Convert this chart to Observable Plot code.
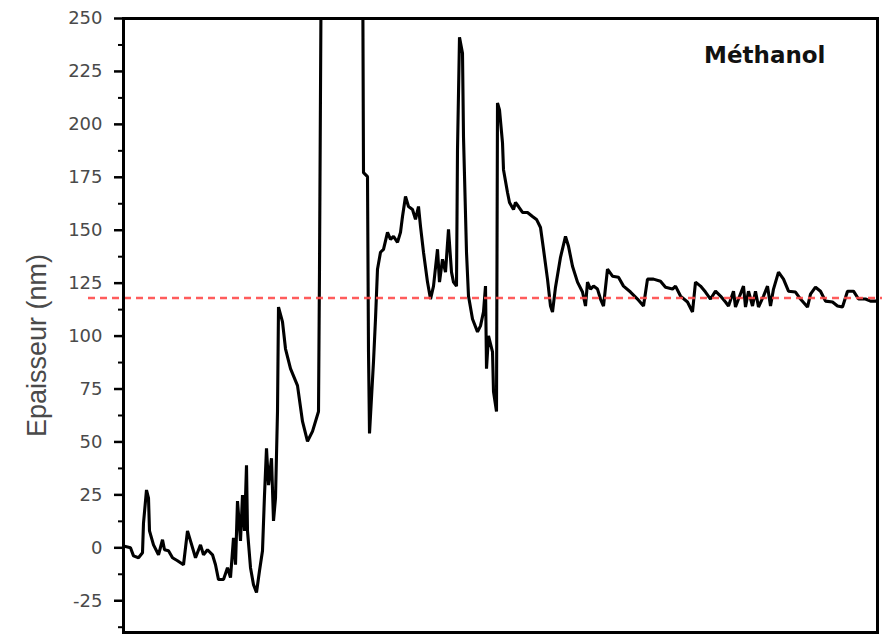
<!DOCTYPE html>
<html>
<head>
<meta charset="utf-8">
<script src="https://cdn.jsdelivr.net/npm/d3@7"></script>
<script src="https://cdn.jsdelivr.net/npm/@observablehq/plot@0.6"></script>
<style>
  html, body { margin: 0; padding: 0; background: #fff; }
  #chart { width: 882px; height: 636px; }
</style>
</head>
<body>
<div id="chart"></div>
<script>
// Film thickness trace (nm) against acquisition time (arbitrary units)
const time = [
  0, 7, 10, 15, 19, 20, 23, 25, 26, 30, 35, 39, 41, 45, 49, 54, 60, 64, 67, 72,
  77, 80, 84, 89, 92, 95, 100, 104, 107, 110, 112, 114, 117, 119, 121, 123, 124, 127, 130, 133,
  136, 139, 141, 143, 145, 148, 150, 152, 154, 155, 159, 162, 167, 174, 179, 184, 189, 195, 196, 198,
  239, 240, 244, 245, 246, 250, 252, 254, 257, 260, 264, 267, 270, 274, 277, 279, 282, 285, 289, 292,
  295, 297, 300, 304, 307, 310, 314, 316, 319, 322, 325, 328, 330, 333, 334, 336, 339, 340, 343, 345,
  349, 354, 357, 360, 362, 363, 365, 369, 370, 373, 374, 376, 379, 380, 384, 386, 390, 392, 395, 399,
  404, 409, 413, 417, 420, 424, 427, 429, 432, 437, 442, 445, 449, 454, 459, 462, 464, 467, 470, 474,
  477, 480, 484, 489, 495, 500, 507, 514, 520, 524, 530, 537, 542, 549, 552, 557, 564, 569, 572, 577,
  582, 587, 592, 597, 602, 605, 610, 612, 615, 620, 622, 625, 629, 632, 635, 640, 644, 647, 650, 655,
  660, 665, 672, 677, 684, 687, 692, 697, 702, 709, 714, 719, 724, 730, 735, 742, 747, 754
];
const thickness = [
  0.9, 0, -3.8, -4.7, -2.3, 11.7, 27.3, 23.5, 8.0, 1.4, -3.3, 3.8, -0.9, -1.4, -4.7, -6.1, -8.0, 8.0, 3.3, -4.7,
  1.4, -3.3, -0.9, -3.3, -8.0, -15.0, -15.0, -9.4, -14.1, 4.7, -8.0, 22.1, 3.3, 24.9, 8.0, 39.0, 8.0, -9.4, -17.4, -21.1,
  -10.8, -1.4, 24.9, 47.0, 29.6, 42.3, 12.7, 23.5, 64.4, 113.7, 106.7, 94.0, 84.6, 76.6, 59.7, 50.3, 55.0, 64.4, 131.6, 300,
  300, 177.2, 175.3, 92.6, 54.0, 87.9, 108.1, 131.6, 139.6, 141.0, 149.0, 145.7, 147.1, 144.3, 149.0, 156.5, 165.9, 161.2, 159.8, 155.1,
  161.2, 151.8, 139.6, 125.5, 117.5, 123.6, 141.0, 125.5, 136.3, 130.2, 150.4, 130.2, 125.5, 123.6, 188.0, 241.1, 233.6, 194.1, 139.6, 118.9,
  108.1, 102.0, 104.8, 111.4, 123.6, 84.6, 100.1, 92.6, 73.8, 64.4, 210.1, 206.8, 191.3, 178.6, 167.8, 163.1, 159.8, 163.1, 161.2, 158.4,
  158.4, 156.5, 155.1, 151.3, 141.0, 126.9, 114.2, 111.4, 123.1, 137.2, 147.1, 142.4, 133.0, 125.5, 120.8, 114.2, 125.5, 122.2, 123.6, 122.2,
  117.5, 114.2, 131.6, 128.3, 127.8, 123.6, 120.8, 117.5, 114.2, 126.9, 126.9, 125.9, 123.1, 122.2, 123.6, 118.9, 116.1, 111.4, 125.5, 123.6,
  120.8, 117.5, 121.2, 118.9, 116.1, 114.2, 121.2, 113.7, 117.5, 123.6, 113.7, 121.2, 114.2, 121.2, 113.7, 118.9, 123.6, 114.2, 122.2, 130.2,
  126.9, 121.2, 120.8, 117.5, 113.7, 119.8, 123.1, 121.2, 116.5, 116.1, 114.2, 113.7, 121.2, 121.2, 117.5, 117.5, 116.5, 116.5
];

// Reference thickness (red dashed level)
const referenceLevel = 118;

// Y-axis ticks
const majorTicks = [-25, 0, 25, 50, 75, 100, 125, 150, 175, 200, 225, 250];
const minorTicks = [-37.5, -12.5, 12.5, 37.5, 62.5, 87.5, 112.5, 137.5, 162.5, 187.5, 212.5, 237.5];

const yLabel = "Epaisseur (nm)";
const panelTitle = "Méthanol";

const series = time.map((t, i) => ({t, v: thickness[i]}));

const chart = Plot.plot({
  width: 882,
  height: 636,
  marginLeft: 123,
  marginRight: 5,
  marginTop: 18,
  marginBottom: 4,
  style: {background: "#fff", fontFamily: "'DejaVu Sans', sans-serif", overflow: "visible"},
  x: {domain: [0, 754], axis: null},
  y: {domain: [-40, 250], axis: null},
  marks: [
    Plot.line(series, {x: "t", y: "v", stroke: "#000", strokeWidth: 3.1, strokeLinejoin: "miter", clip: true}),
    Plot.ruleY([referenceLevel], {stroke: "#ff4a4a", strokeWidth: 2.5, strokeDasharray: "7,5", insetLeft: -35, insetRight: -5, strokeOpacity: 0.9}),
    Plot.frame({stroke: "#000", strokeWidth: 3}),
    Plot.axisY(majorTicks, {
      anchor: "left", tickSize: 9, tickPadding: 12, strokeWidth: 2.5,
      tickFormat: d => String(d), fontSize: 18, fill: "#4a4a4a", label: null
    }),
    Plot.axisY(minorTicks, {
      anchor: "left", tickSize: 5, strokeWidth: 2, tickFormat: () => "", label: null
    }),
    Plot.text([yLabel], {
      frameAnchor: "left", textAnchor: "middle", rotate: -90, dx: -86, dy: 20,
      fontSize: 27, fill: "#4a4a4a", fontFamily: "'Liberation Sans', Arial, sans-serif"
    }),
    Plot.text([panelTitle], {
      frameAnchor: "top-right", textAnchor: "end", dx: -52, dy: 28,
      fontSize: 23, fontWeight: "bold", fill: "#111", letterSpacing: 1
    })
  ]
});

document.getElementById("chart").appendChild(chart);
</script>
</body>
</html>
